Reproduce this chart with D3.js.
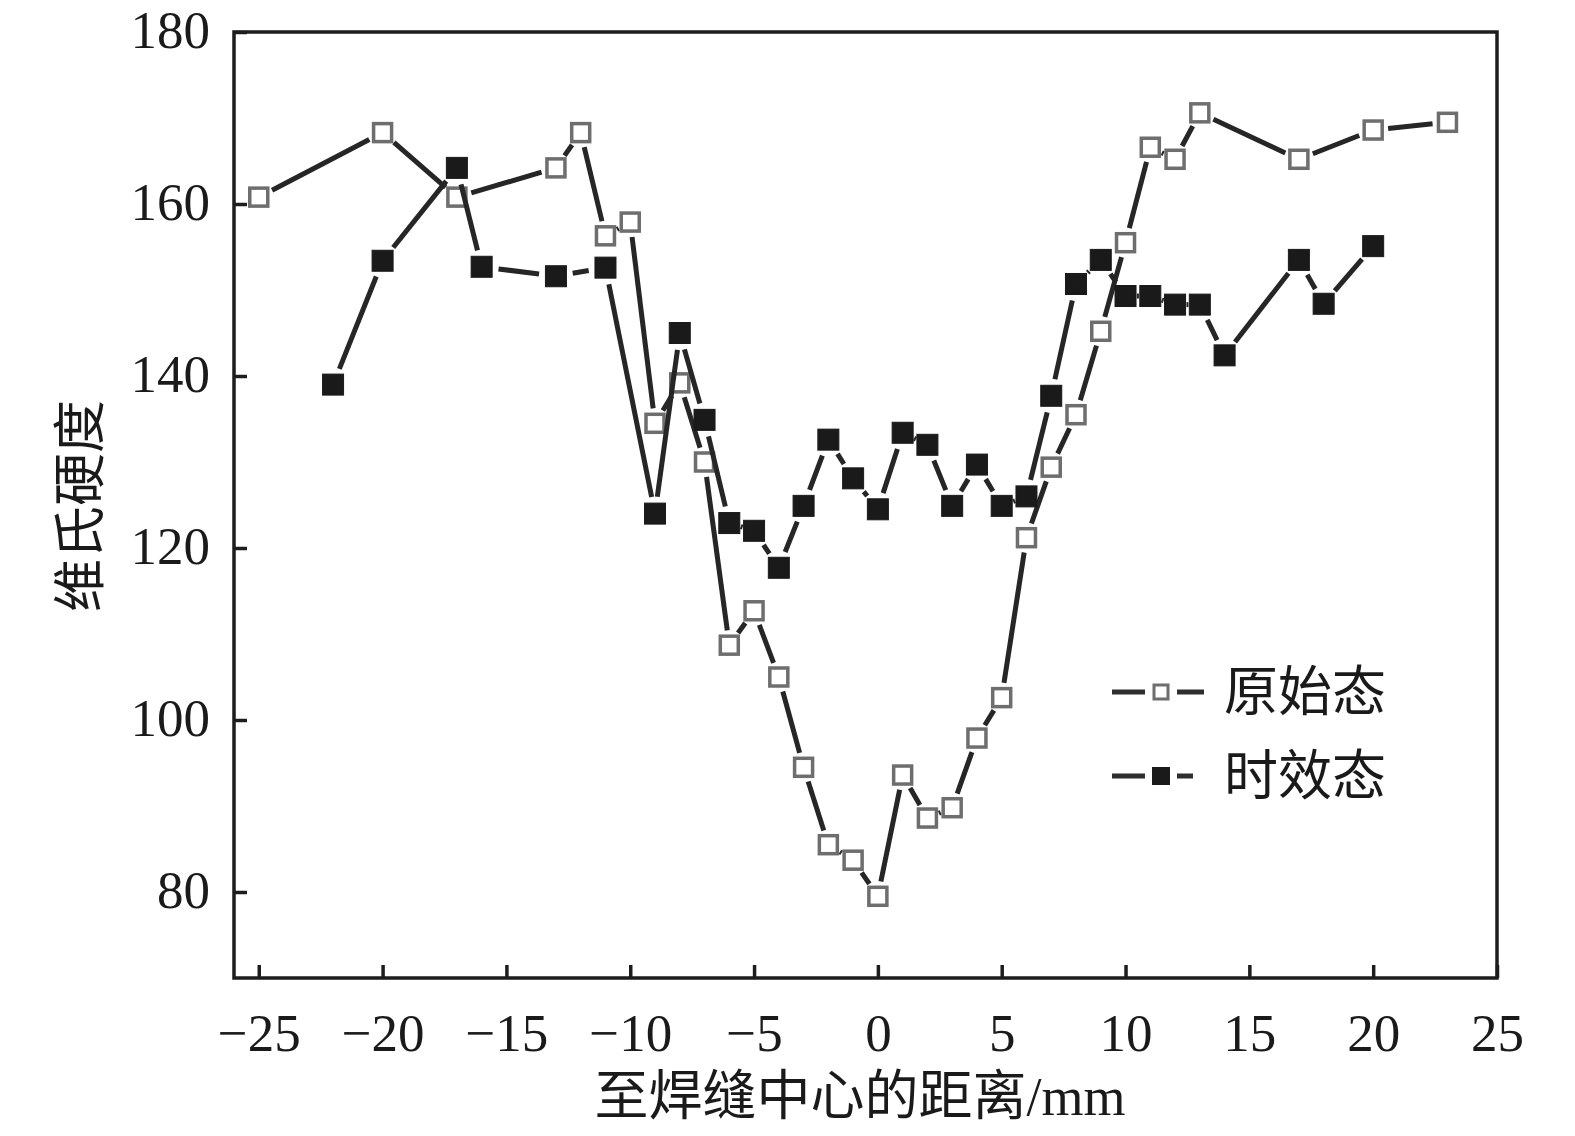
<!DOCTYPE html>
<html>
<head>
<meta charset="utf-8">
<script src="https://cdn.jsdelivr.net/npm/d3@7.9.0/dist/d3.min.js"></script>
<style>
  body { margin: 0; background: #fff; }
  text { font-family: "Liberation Serif", "Times New Roman", "Noto Sans CJK SC", serif; fill: #1a1a1a; }
  .cjk { font-family: "Liberation Serif", "Noto Sans CJK SC", serif; }
</style>
</head>
<body>
<svg id="chart" width="1575" height="1136"></svg>
<script>
// distance from weld centre (mm) and Vickers hardness
const origX  = [-25, -20, -17, -13, -12, -11, -10, -9, -8, -7, -6, -5, -4, -3, -2, -1, 0,
                 1, 2, 3, 4, 5, 6, 7, 8, 9, 10, 11, 12, 13, 17, 20, 23];
const origHV = [160.8, 168.3, 160.8, 164.2, 168.3, 156.3, 157.9, 134.5, 139.2, 130.0, 108.7, 112.7, 105.0, 94.5, 85.5, 83.7, 79.5,
                93.6, 88.6, 89.8, 97.9, 102.6, 121.2, 129.4, 135.5, 145.2, 155.5, 166.6, 165.2, 170.6, 165.2, 168.6, 169.5];

const agedX  = [-22, -20, -17, -16, -13, -11, -9, -8, -7, -6, -5, -4, -3, -2, -1, 0,
                 1, 2, 3, 4, 5, 6, 7, 8, 9, 10, 11, 12, 13, 14, 17, 18, 20];
const agedHV = [139.0, 153.4, 164.2, 152.7, 151.6, 152.6, 124.0, 145.0, 134.9, 122.9, 122.0, 117.7, 124.9, 132.6, 128.1, 124.5,
                133.4, 132.0, 124.9, 129.7, 124.9, 126.0, 137.7, 150.7, 153.5, 149.3, 149.3, 148.3, 148.3, 142.4, 153.5, 148.4, 155.1];

const xTicks = [-25, -20, -15, -10, -5, 0, 5, 10, 15, 20, 25];
const yTicks = [80, 100, 120, 140, 160, 180];
const seriesNames = ['原始态', '时效态'];

const svg = d3.select('#chart');
const plotL = 234, plotR = 1497, plotT = 32, plotB = 978;

const x = d3.scaleLinear().domain([-26, 25]).range([plotL, plotR]);
const y = d3.scaleLinear().domain([70, 180]).range([plotB, plotT]);

const ink = '#1d1d1d';

// axes with inward ticks
const xAxis = svg.append('g')
  .attr('transform', `translate(0,${plotB})`)
  .call(d3.axisBottom(x).tickValues(xTicks).tickSize(-13).tickPadding(28));
const yAxis = svg.append('g')
  .attr('transform', `translate(${plotL},0)`)
  .call(d3.axisLeft(y).tickValues(yTicks).tickSize(-13).tickPadding(24));

[xAxis, yAxis].forEach(g => {
  g.select('.domain').remove();
  g.selectAll('.tick line').attr('stroke', ink).attr('stroke-width', 3.5);
  g.selectAll('.tick text').attr('font-size', 53).attr('fill', ink);
});
xAxis.selectAll('.tick text').attr('dy', '0.85em');
yAxis.selectAll('.tick text').attr('dy', '0.3em');

// frame
svg.append('rect')
  .attr('x', plotL).attr('y', plotT)
  .attr('width', plotR - plotL).attr('height', plotB - plotT)
  .attr('fill', 'none').attr('stroke', ink).attr('stroke-width', 3.5);

// axis titles
svg.append('text')
  .attr('class', 'cjk')
  .attr('x', 860).attr('y', 1115)
  .attr('text-anchor', 'middle')
  .attr('font-size', 54)
  .text('至焊缝中心的距离/mm');

svg.append('text')
  .attr('class', 'cjk')
  .attr('transform', 'translate(99,506) rotate(-90)')
  .attr('text-anchor', 'middle')
  .attr('font-size', 53)
  .text('维氏硬度');

// line pieces that stop short of the markers
function pieces(xs, vs, gap) {
  const pts = xs.map((d, i) => [x(d), y(vs[i])]);
  return d3.pairs(pts).map(([a, b]) => {
    const dx = b[0] - a[0], dy = b[1] - a[1];
    const len = Math.hypot(dx, dy);
    const ux = dx / len, uy = dy / len;
    const g = Math.min(gap, len / 2 - 1);
    return [a[0] + ux * g, a[1] + uy * g, b[0] - ux * g, b[1] - uy * g];
  }).filter(s => (s[2] - s[0]) * (s[2] - s[0]) + (s[3] - s[1]) * (s[3] - s[1]) > 1);
}

function drawSeries(xs, vs, filled) {
  const g = svg.append('g');
  g.selectAll('line')
    .data(pieces(xs, vs, filled ? 17 : 15))
    .join('line')
    .attr('x1', d => d[0]).attr('y1', d => d[1])
    .attr('x2', d => d[2]).attr('y2', d => d[3])
    .attr('stroke', '#262626').attr('stroke-width', 5);
  const s = filled ? 21 : 18;
  g.selectAll('rect')
    .data(xs.map((d, i) => [d, vs[i]]))
    .join('rect')
    .attr('x', d => x(d[0]) - s / 2).attr('y', d => y(d[1]) - s / 2)
    .attr('width', s).attr('height', s)
    .attr('fill', filled ? '#1a1a1a' : '#fff')
    .attr('stroke', filled ? '#1a1a1a' : '#6e6e6e')
    .attr('stroke-width', filled ? 1 : 3.5);
}

drawSeries(origX, origHV, false);
drawSeries(agedX, agedHV, true);

// legend
const legend = svg.append('g');
seriesNames.forEach((name, i) => {
  const cy = 692 + i * 84;
  const filled = i === 1;
  legend.append('line')
    .attr('x1', 1112).attr('x2', 1145).attr('y1', cy).attr('y2', cy)
    .attr('stroke', '#2e2e2e').attr('stroke-width', 5);
  legend.append('line')
    .attr('x1', 1177).attr('x2', filled ? 1193 : 1204).attr('y1', cy).attr('y2', cy)
    .attr('stroke', '#2e2e2e').attr('stroke-width', 5);
  const s = filled ? 17 : 14;
  legend.append('rect')
    .attr('x', 1161 - s / 2).attr('y', cy - s / 2)
    .attr('width', s).attr('height', s)
    .attr('fill', filled ? '#1a1a1a' : '#fff')
    .attr('stroke', filled ? '#1a1a1a' : '#6e6e6e')
    .attr('stroke-width', filled ? 1 : 3);
  legend.append('text')
    .attr('class', 'cjk')
    .attr('x', 1224).attr('y', cy)
    .attr('dy', '0.36em')
    .attr('font-size', 54)
    .text(name);
});
</script>
</body>
</html>
